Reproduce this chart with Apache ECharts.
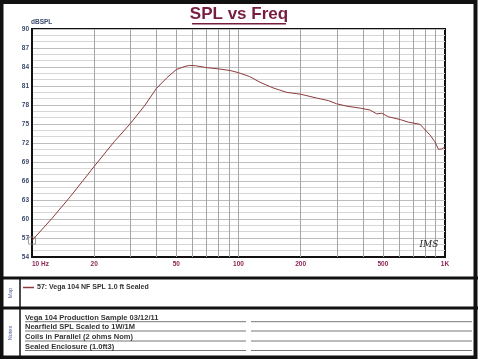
<!DOCTYPE html>
<html><head><meta charset="utf-8">
<script src="https://cdn.jsdelivr.net/npm/echarts@6/dist/echarts.min.js"></script>
<style>html,body{margin:0;padding:0;background:#fff}#c{width:478px;height:359px}</style>
</head><body><div id="c"></div>
<script>
const freqHz = [10, 12.5, 15.3, 17.5, 20, 25, 30, 35.3, 40, 45, 50, 55, 58, 62, 70, 80, 91, 100, 113, 127, 147, 171, 200, 239, 272, 298, 336, 390, 434, 467, 494, 531, 607, 663, 757, 785, 844, 893, 930, 962, 1000];
const splDb = [56.6, 60.1, 63.5, 65.9, 68.3, 72.2, 75.1, 78.0, 80.6, 82.3, 83.6, 84.1, 84.25, 84.2, 83.9, 83.7, 83.45, 83.1, 82.5, 81.6, 80.7, 80.0, 79.7, 79.1, 78.7, 78.2, 77.8, 77.5, 77.2, 76.6, 76.7, 76.15, 75.7, 75.3, 74.95, 74.4, 73.3, 72.2, 71.0, 71.05, 71.4];
const xLabelValues = [10, 20, 50, 100, 200, 500, 1000];
const xLabelTexts = {10: '10 Hz', 20: '20', 50: '50', 100: '100', 200: '200', 500: '500', 1000: '1K'};
const xGridValues = [20, 30, 40, 50, 60, 70, 80, 90, 100, 200, 300, 400, 500, 600, 700, 800, 900];
const seriesName = '57: Vega 104 NF SPL 1.0 ft Sealed';
const noteLines = ['Vega 104 Production Sample 03/12/11', 'Nearfield SPL Scaled to 1W/1M', 'Coils in Parallel (2 ohms Nom)', 'Sealed Enclosure (1.0ft3)'];

const FONT = 'Liberation Sans, Arial, sans-serif';
const titleColor = '#761d40';
const lineColor = '#8e3b3b';
const yLabColor = '#3c4a6e';
const xLabColor = '#8c2454';

const points = freqHz.map((f, i) => [f, splDb[i]]);

const graphics = [];
graphics.push({type: 'rect', shape: {x: 1.5, y: 2, width: 474, height: 355.5}, style: {fill: 'none', stroke: '#111', lineWidth: 4}, z: 100});
graphics.push({type: 'line', shape: {x1: 0, y1: 278, x2: 478, y2: 278}, style: {stroke: '#111', lineWidth: 3}});
graphics.push({type: 'line', shape: {x1: 0, y1: 308, x2: 478, y2: 308}, style: {stroke: '#111', lineWidth: 3}});
graphics.push({type: 'line', shape: {x1: 20, y1: 278, x2: 20, y2: 357}, style: {stroke: '#111', lineWidth: 1.5}});
graphics.push({type: 'text', x: 10, y: 293, rotation: Math.PI / 2, style: {text: 'Map', font: '5.5px ' + FONT, fill: '#4a5a9a', align: 'center', verticalAlign: 'middle'}});
graphics.push({type: 'text', x: 10, y: 333, rotation: Math.PI / 2, style: {text: 'Notes', font: '5.5px ' + FONT, fill: '#4a5a9a', align: 'center', verticalAlign: 'middle'}});
graphics.push({type: 'line', shape: {x1: 192, y1: 23.8, x2: 286, y2: 23.8}, style: {stroke: titleColor, lineWidth: 1.6}});
const noteY = [321.7, 331, 341, 350.5];
noteLines.forEach((t, i) => {
  graphics.push({type: 'line', shape: {x1: 25, y1: noteY[i], x2: 246, y2: noteY[i]}, style: {stroke: '#777', lineWidth: 1}});
  graphics.push({type: 'line', shape: {x1: 251, y1: noteY[i], x2: 472, y2: noteY[i]}, style: {stroke: '#777', lineWidth: 1}});
  graphics.push({type: 'text', x: 25, y: noteY[i], style: {text: t, font: 'bold 7.5px ' + FONT, fill: '#333', align: 'left', verticalAlign: 'bottom'}});
});
graphics.push({type: 'text', x: 429, y: 245, style: {text: 'IMS', font: 'italic 9px DejaVu Serif, serif', fill: '#222', align: 'center', verticalAlign: 'middle'}, z: 50});

const chart = echarts.init(document.getElementById('c'), null, {renderer: 'canvas'});
chart.setOption({
  animation: false,
  backgroundColor: '#fff',
  title: {text: 'SPL vs Freq', left: 'center', top: 6, padding: 0, textStyle: {fontSize: 17, fontWeight: 'bold', color: titleColor, fontFamily: FONT}},
  legend: {data: [seriesName], left: 23, top: 284, padding: 0, icon: 'rect', itemWidth: 11, itemHeight: 1.5, itemGap: 0,
    textStyle: {fontSize: 7, fontWeight: 'bold', color: '#333', fontFamily: FONT, padding: [0, 0, 0, -2]}},
  grid: {left: 32, top: 29, right: 33, bottom: 102, show: true, borderColor: '#111', borderWidth: 2, backgroundColor: '#fff'},
  xAxis: {type: 'log', logBase: 10, min: 10, max: 1000,
    axisLine: {show: true, lineStyle: {color: '#111', width: 2}},
    axisTick: {show: false},
    splitLine: {show: false},
    minorTick: {show: false}, minorSplitLine: {show: false},
    axisLabel: {customValues: xLabelValues, formatter: v => xLabelTexts[Math.round(v)] || '', fontSize: 6.5, fontWeight: 'bold', color: xLabColor, fontFamily: FONT, margin: 4, alignMinLabel: 'left', showMinLabel: true, showMaxLabel: true}
  },
  yAxis: {type: 'value', min: 54, max: 90, interval: 3,
    name: 'dBSPL', nameLocation: 'end', nameGap: -1.5,
    nameTextStyle: {fontSize: 6.5, fontWeight: 'bold', color: yLabColor, fontFamily: FONT, align: 'left', padding: [0, 0, 0, -1]},
    axisLine: {show: true, lineStyle: {color: '#111', width: 2}},
    axisTick: {show: false},
    splitLine: {show: true, lineStyle: {color: '#bdbdbd', width: 1}},
    minorTick: {show: false, splitNumber: 3},
    minorSplitLine: {show: true, lineStyle: {color: '#d6d6d6', width: 1}},
    axisLabel: {fontSize: 6.5, fontWeight: 'bold', color: yLabColor, fontFamily: FONT, margin: 3}
  },
  graphic: graphics,
  series: [
    {name: seriesName, type: 'line', data: points, showSymbol: false, smooth: false,
      lineStyle: {color: lineColor, width: 1}, itemStyle: {color: lineColor}, z: 5,
      markLine: {silent: true, symbol: 'none', label: {show: false}, animation: false,
        lineStyle: {color: '#a5a5a5', type: 'solid', width: 1},
        data: xGridValues.map(v => ({xAxis: v}))}
    },
    {name: 'start', type: 'scatter', data: [points[0]], symbol: 'rect', symbolSize: 7,
      itemStyle: {color: 'rgba(0,0,0,0)', borderColor: '#8a8a8a', borderWidth: 1}, z: 6, silent: true}
  ]
});
</script></body></html>
